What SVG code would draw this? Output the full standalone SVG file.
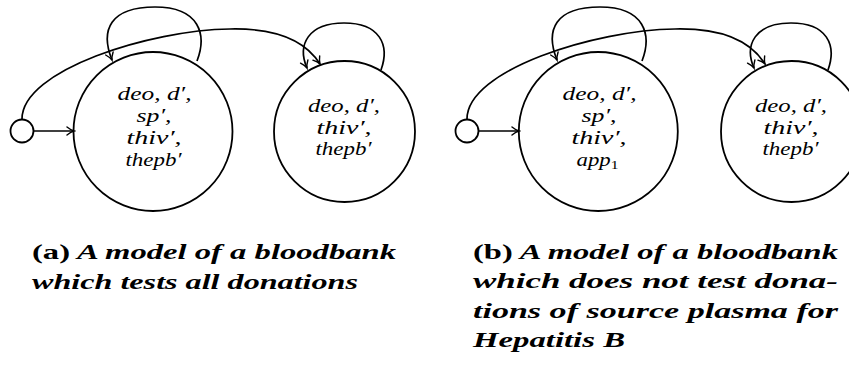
<svg xmlns="http://www.w3.org/2000/svg" width="849" height="365" viewBox="0 0 849 365">
<style>
.st{fill:#fff;stroke:#000;stroke-width:1.8}
.ed{fill:none;stroke:#000;stroke-width:1.7}
.m{font-family:"Liberation Serif","Times New Roman",serif;font-style:italic;font-size:19px;fill:#000;text-anchor:middle}
.cap{font-family:"Liberation Serif","Times New Roman",serif;font-weight:bold;font-style:italic;font-size:21px;fill:#000}
.up{font-style:normal}
</style>
<defs>
<marker id="arr" viewBox="-10 -6 12 12" refX="0" refY="0" markerWidth="12" markerHeight="12" orient="auto" markerUnits="userSpaceOnUse">
<path d="M-7,-4 Q-3,-0.8 0,0 Q-3,0.8 -7,4" fill="none" stroke="#000" stroke-width="1.4" stroke-linecap="round"/>
</marker>
</defs>
<g id="connectors">
<path class="ed" d="M33.5,131 L74,131" marker-end="url(#arr)"/>
<path class="ed" d="M197,61 C207,35 200,7 155,7 C110,7 100,30 112,60" marker-end="url(#arr)"/>
<path class="ed" d="M22,119 C22,70 150,30 230,29 C275,28 305,40 320,64" marker-end="url(#arr)"/>
<path class="ed" d="M381,70 C390,45 380,23 344,23 C308,23 297,45 307,68" marker-end="url(#arr)"/>
<path class="ed" d="M478.5,131 L519,131" marker-end="url(#arr)"/>
<path class="ed" d="M642,61 C652,35 645,7 600,7 C555,7 545,30 557,60" marker-end="url(#arr)"/>
<path class="ed" d="M467,119 C467,70 595,30 675,29 C720,28 750,40 765,64" marker-end="url(#arr)"/>
<path class="ed" d="M828,70 C837,45 827,23 791,23 C755,23 744,45 754,68" marker-end="url(#arr)"/>
</g>
<g id="a-init"><circle class="st" cx="22" cy="131" r="11.5"/></g>
<g id="a-s1">
<circle class="st" cx="153" cy="131.5" r="79.5" style="fill:none"/>
<text class="m" x="154.5" y="100" textLength="74" lengthAdjust="spacingAndGlyphs">deo, d′,</text>
<text class="m" x="154" y="122" textLength="35" lengthAdjust="spacingAndGlyphs">sp′,</text>
<text class="m" x="154" y="144" textLength="55" lengthAdjust="spacingAndGlyphs">thiv′,</text>
<text class="m" x="153.5" y="166" textLength="56" lengthAdjust="spacingAndGlyphs">thepb′</text>
</g>
<g id="a-s2">
<circle class="st" cx="344.5" cy="131.5" r="70.5" style="fill:none"/>
<text class="m" x="344" y="112" textLength="72" lengthAdjust="spacingAndGlyphs">deo, d′,</text>
<text class="m" x="344" y="133.5" textLength="55" lengthAdjust="spacingAndGlyphs">thiv′,</text>
<text class="m" x="343.5" y="155" textLength="56" lengthAdjust="spacingAndGlyphs">thepb′</text>
</g>
<g id="b-init"><circle class="st" cx="467" cy="131" r="11.5"/></g>
<g id="b-s1">
<circle class="st" cx="598.3" cy="131.5" r="79.5" style="fill:none"/>
<text class="m" x="599.5" y="100" textLength="74" lengthAdjust="spacingAndGlyphs">deo, d′,</text>
<text class="m" x="599" y="122" textLength="35" lengthAdjust="spacingAndGlyphs">sp′,</text>
<text class="m" x="599" y="144" textLength="55" lengthAdjust="spacingAndGlyphs">thiv′,</text>
<text class="m" x="597.5" y="166" textLength="42" lengthAdjust="spacingAndGlyphs">app<tspan class="up" font-size="13" dy="3">1</tspan></text>
</g>
<g id="b-s2">
<circle class="st" cx="791.5" cy="131.5" r="70.5" style="fill:none"/>
<text class="m" x="791" y="112" textLength="72" lengthAdjust="spacingAndGlyphs">deo, d′,</text>
<text class="m" x="791" y="133.5" textLength="55" lengthAdjust="spacingAndGlyphs">thiv′,</text>
<text class="m" x="790.5" y="155" textLength="56" lengthAdjust="spacingAndGlyphs">thepb′</text>
</g>
<g id="captions">
<text class="cap" x="32" y="259" textLength="364" lengthAdjust="spacingAndGlyphs"><tspan class="up">(a)</tspan> A model of a bloodbank</text>
<text class="cap" x="32" y="289" textLength="326" lengthAdjust="spacingAndGlyphs">which tests all donations</text>
<text class="cap" x="473" y="258.5" textLength="365" lengthAdjust="spacingAndGlyphs"><tspan class="up">(b)</tspan> A model of a bloodbank</text>
<text class="cap" x="473" y="288" textLength="365" lengthAdjust="spacingAndGlyphs">which does not test dona-</text>
<text class="cap" x="473" y="317.5" textLength="365" lengthAdjust="spacingAndGlyphs">tions of source plasma for</text>
<text class="cap" x="473" y="347" textLength="152" lengthAdjust="spacingAndGlyphs">Hepatitis B</text>
</g>
</svg>
